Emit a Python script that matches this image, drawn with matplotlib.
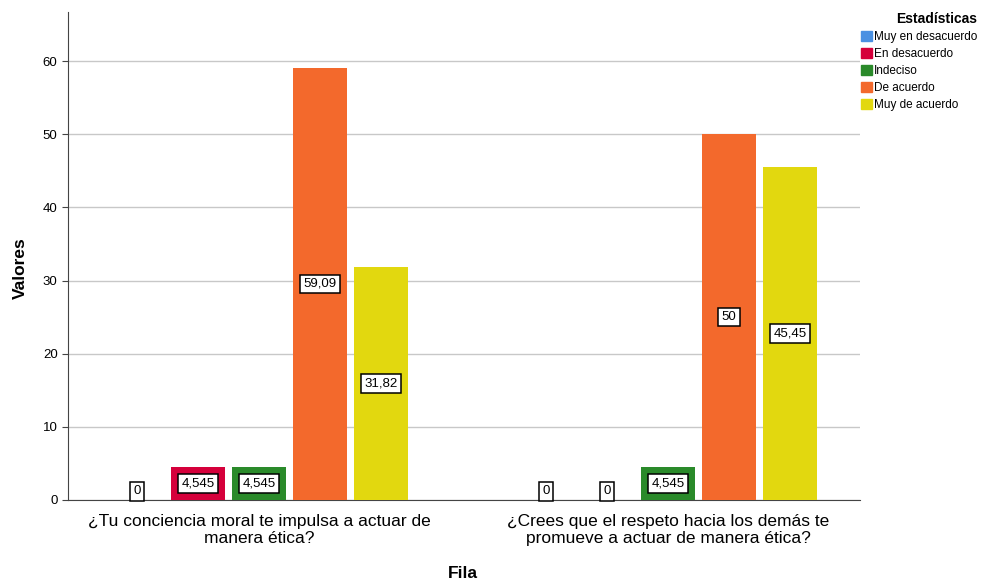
import numpy as np
import matplotlib.pyplot as plt
from matplotlib.patches import Patch

plt.rcParams["font.family"] = ["Liberation Sans", "DejaVu Sans"]

categories = ["¿Tu conciencia moral te impulsa a actuar de\nmanera ética?",
              "¿Crees que el respeto hacia los demás te\npromueve a actuar de manera ética?"]
series = ["Muy en desacuerdo", "En desacuerdo", "Indeciso", "De acuerdo", "Muy de acuerdo"]
values = [
    [0, 0],
    [4.545, 0],
    [4.545, 4.545],
    [59.09, 50],
    [31.82, 45.45],
]
labels = [
    ["0", "0"],
    ["4,545", "0"],
    ["4,545", "4,545"],
    ["59,09", "50"],
    ["31,82", "45,45"],
]
colors = ["#4a90e2", "#d5003b", "#2a8a2a", "#f3692c", "#e2d80f"]

fig = plt.figure(figsize=(9.89, 5.8), dpi=100)
ax = fig.add_axes([68 / 989, 80 / 580, 792 / 989, 488 / 580])

step = 0.149
width = 0.132
x = np.arange(len(categories))
for i, (name, vals, labs, c) in enumerate(zip(series, values, labels, colors)):
    pos = x + (i - 2) * step
    ax.bar(pos, vals, width, color=c, zorder=3)
    for p, v, lab in zip(pos, vals, labs):
        box = dict(boxstyle="square,pad=0.25", fc="white", ec="black", lw=1.1)
        if v == 0:
            ax.text(p, 0.35, lab, ha="center", va="bottom", fontsize=9.5, bbox=box, zorder=4)
        else:
            ax.text(p, v / 2, lab, ha="center", va="center", fontsize=9.5, bbox=box, zorder=4)

ax.set_xlim(-0.467, 1.469)
ax.set_ylim(0, 66.7)
ax.set_yticks(range(0, 61, 10))
ax.tick_params(axis="y", labelsize=9.5, length=4, color="#444444")
ax.set_xticks(x)
ax.set_xticklabels(categories, fontsize=12.5)
ax.tick_params(axis="x", length=0, pad=10)
ax.grid(axis="y", color="#c8c8c8", lw=1, zorder=0)
for s in ["top", "right"]:
    ax.spines[s].set_visible(False)
ax.spines["left"].set_color("#444444")
ax.spines["bottom"].set_color("#444444")
fig.text(20 / 989, 1 - 268 / 580, "Valores", rotation=90, ha="center", va="center",
         fontsize=12.5, fontweight="bold")
fig.text(463 / 989, 1 - 573 / 580, "Fila", ha="center", va="center", fontsize=12.5, fontweight="bold")

handles = [Patch(color=c, label=n) for n, c in zip(series, colors)]
leg = fig.legend(handles=handles, title="Estadísticas", loc="upper left",
                 bbox_to_anchor=(861 / 989, 1 - 12 / 580), frameon=False, fontsize=8.5,
                 title_fontproperties={"weight": "bold", "size": 10},
                 handlelength=0.9, handleheight=0.9, handletextpad=0.2,
                 labelspacing=0.42, borderaxespad=0, borderpad=0)
leg._legend_box.align = "right"

fig.savefig("out.png", dpi=100)
